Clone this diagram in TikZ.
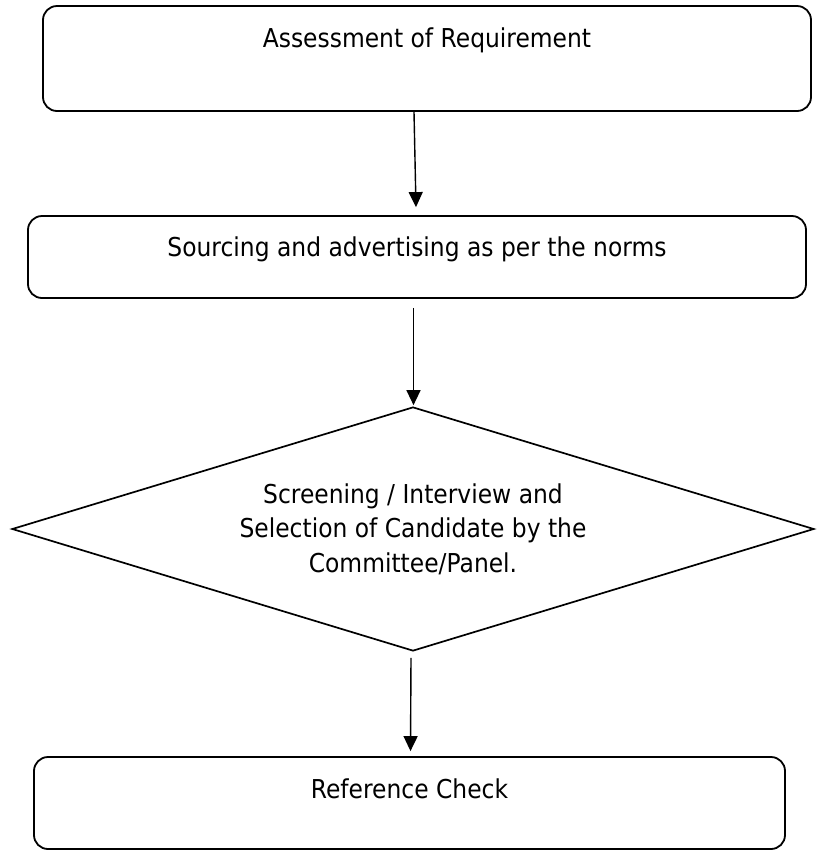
\documentclass[tikz,border=0pt]{standalone}
\usepackage{fontspec}
\setmainfont{DejaVu Sans}[FakeStretch=0.9]
\usetikzlibrary{shapes.geometric,arrows.meta}
\begin{document}
\begin{tikzpicture}[x=1pt,y=-1pt,
  box/.style={draw=black, line width=1.8pt, rounded corners=14pt, inner sep=0pt,
    font=\fontsize{26}{34.5}\selectfont},
  decision/.style={draw=black, line width=1.7pt, shape=diamond, aspect=3.29,
    minimum width=802pt, minimum height=244pt, inner sep=0pt, align=center,
    font=\fontsize{26}{34.5}\selectfont},
  arr/.style={draw=black, line width=1.4pt, -{Triangle[width=14pt,length=15pt]}}]
\fill[white] (0,0) rectangle (819,855);
\useasboundingbox (0,0) rectangle (819,855);

\node[box, minimum width=768pt, minimum height=105pt, text height=41pt, text depth=64pt]
  (b1) at (427,58.5) {Assessment of Requirement};
\node[box, minimum width=778pt, minimum height=82pt, text height=40pt, text depth=42pt]
  (b2) at (417,257) {Sourcing and advertising as per the norms};
\node[decision] (d) at (413,529)
  {Screening / Interview and\\Selection of Candidate by the\\Committee/Panel.};
\node[box, minimum width=751pt, minimum height=92pt, text height=41pt, text depth=51pt]
  (b3) at (409.5,803) {Reference Check};

\draw[arr] ([xshift=-13pt]b1.south) -- ([xshift=-1pt,yshift=8pt]b2.north);
\draw[arr] ([xshift=-3.5pt,yshift=-9pt]b2.south) -- ([xshift=0.5pt,yshift=1pt]d.north);
\draw[arr] ([xshift=-2pt,yshift=-6pt]d.south) -- ([xshift=1pt,yshift=5pt]b3.north);
\end{tikzpicture}
\end{document}
